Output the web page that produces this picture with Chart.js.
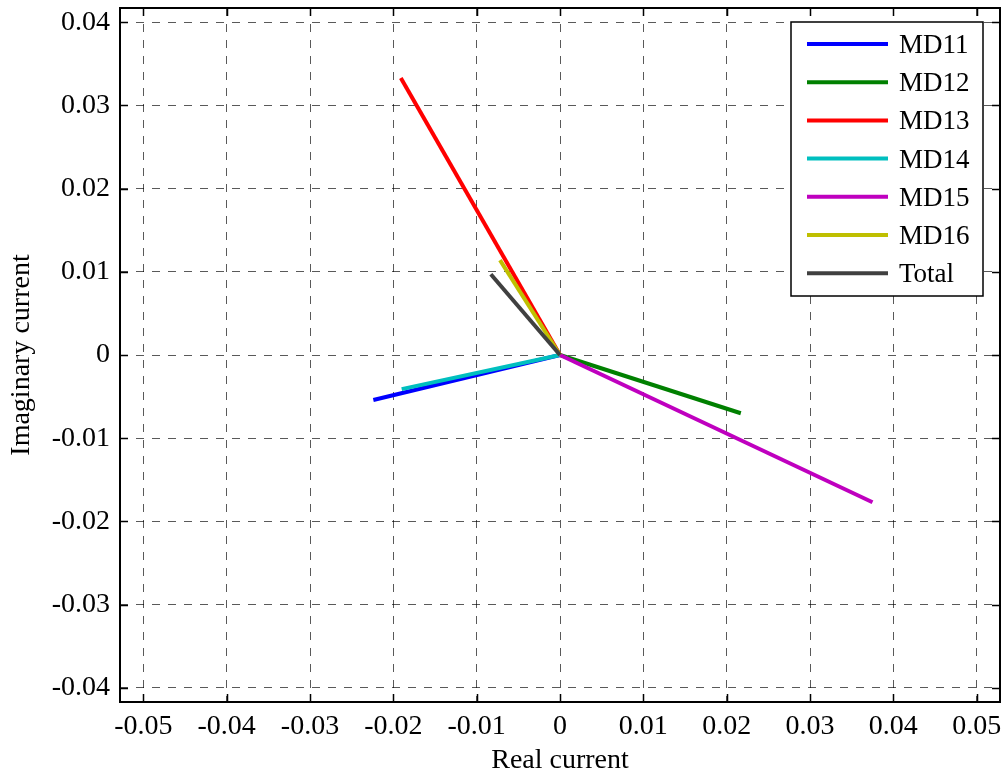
<!DOCTYPE html>
<html>
<head>
<meta charset="utf-8">
<script src="https://cdn.jsdelivr.net/npm/chart.js@4/dist/chart.umd.min.js"></script>
<style>
  html, body { margin: 0; padding: 0; background: #fff; }
  #wrap { width: 1005px; height: 775px; }
</style>
</head>
<body>
<div id="wrap"><canvas id="phasor"></canvas></div>
<script>
/* ---------- Data ---------- */

const seriesNames = ["MD11", "MD12", "MD13", "MD14", "MD15", "MD16", "Total"];
const seriesColors = ["#0000ff", "#008000", "#ff0000", "#00bfbf", "#bf00bf", "#bfbf00", "#404040"];

// phasor tips (real, imaginary), every line starts at the origin
const realEnd = [-0.0224, 0.0217, -0.0191, -0.0190, 0.0375, -0.0072, -0.0083];
const imagEnd = [-0.0054, -0.0070, 0.0333, -0.0041, -0.0177, 0.0114, 0.0097];

const xTicks = [-0.05, -0.04, -0.03, -0.02, -0.01, 0, 0.01, 0.02, 0.03, 0.04, 0.05];
const yTicks = [-0.04, -0.03, -0.02, -0.01, 0, 0.01, 0.02, 0.03, 0.04];

const X_LIM = 0.0528;
const Y_LIM = 0.0417;

/* ---------- Style ---------- */

const FONT = "'Liberation Serif', 'Times New Roman', serif";
const GRID = "rgba(0,0,0,0.65)";

/* ---------- Plugins ---------- */

// matlab style box + inward tick marks
const frame = {
    id: "frame",
    afterDatasetsDraw(chart) {
        const { ctx, chartArea: a, scales } = chart;
        const len = 8;
        ctx.save();
        ctx.strokeStyle = "#000";
        ctx.lineWidth = 1.5;
        ctx.beginPath();
        xTicks.forEach(v => {
            const px = Math.round(scales.x.getPixelForValue(v)) + 0.5;
            ctx.moveTo(px, a.bottom); ctx.lineTo(px, a.bottom - len);
            ctx.moveTo(px, a.top); ctx.lineTo(px, a.top + len);
        });
        yTicks.forEach(v => {
            const py = Math.round(scales.y.getPixelForValue(v)) + 0.5;
            ctx.moveTo(a.left, py); ctx.lineTo(a.left + len, py);
            ctx.moveTo(a.right, py); ctx.lineTo(a.right - len, py);
        });
        ctx.stroke();
        ctx.lineWidth = 2;
        ctx.strokeRect(a.left, a.top, a.right - a.left, a.bottom - a.top);
        ctx.restore();
    }
};

// legend box in the top right corner
const boxLegend = {
    id: "boxLegend",
    afterDatasetsDraw(chart) {
        const { ctx, chartArea: a } = chart;
        const w = 192, h = 274;
        const x = a.right - 17 - w;
        const y = a.top + 14;
        const rowH = 38.2;
        ctx.save();
        ctx.fillStyle = "#fff";
        ctx.fillRect(x, y, w, h);
        ctx.strokeStyle = "#000";
        ctx.lineWidth = 1.5;
        ctx.strokeRect(x, y, w, h);
        ctx.font = "27px " + FONT;
        ctx.textBaseline = "middle";
        chart.data.datasets.forEach((ds, i) => {
            const ry = y + 22 + i * rowH;
            ctx.strokeStyle = ds.borderColor;
            ctx.lineWidth = 4;
            ctx.beginPath();
            ctx.moveTo(x + 16, ry);
            ctx.lineTo(x + 97, ry);
            ctx.stroke();
            ctx.fillStyle = "#000";
            ctx.fillText(ds.label, x + 108, ry + 2);
        });
        ctx.restore();
    }
};

/* ---------- Chart ---------- */

const datasets = seriesNames.map((name, i) => ({
    label: name,
    data: [{ x: 0, y: 0 }, { x: realEnd[i], y: imagEnd[i] }],
    borderColor: seriesColors[i],
    backgroundColor: seriesColors[i],
    borderWidth: 4,
    pointRadius: 0,
    showLine: true,
    order: seriesNames.length - i
}));

function tickFormat(v) {
    return String(Math.round(v * 100) / 100);
}

new Chart(document.getElementById("phasor"), {
    type: "scatter",
    data: { datasets },
    options: {
        responsive: true,
        maintainAspectRatio: false,
        animation: false,
        layout: { padding: { top: 8, right: 5, left: 0, bottom: 0 } },
        plugins: {
            legend: { display: false },
            tooltip: { enabled: false }
        },
        scales: {
            x: {
                type: "linear",
                min: -X_LIM,
                max: X_LIM,
                afterBuildTicks: s => { s.ticks = xTicks.map(v => ({ value: v })); },
                afterFit: s => { s.height = 73; s.paddingLeft = 0; s.paddingRight = 0; },
                border: { display: false, dash: [8, 8] },
                grid: { color: GRID, lineWidth: 1, drawTicks: false },
                ticks: {
                    padding: 8,
                    color: "#000",
                    font: { family: FONT, size: 28 },
                    maxRotation: 0,
                    autoSkip: false,
                    callback: tickFormat
                },
                title: {
                    display: true,
                    text: "Real current",
                    color: "#000",
                    font: { family: FONT, size: 28, lineHeight: 1 },
                    padding: { top: 0, bottom: 0 }
                }
            },
            y: {
                type: "linear",
                min: -Y_LIM,
                max: Y_LIM,
                afterBuildTicks: s => { s.ticks = yTicks.map(v => ({ value: v })); },
                afterFit: s => { s.width = 120; s.paddingTop = 0; s.paddingBottom = 0; },
                border: { display: false, dash: [8, 8] },
                grid: { color: GRID, lineWidth: 1, drawTicks: false },
                ticks: {
                    padding: 10,
                    color: "#000",
                    font: { family: FONT, size: 28 },
                    autoSkip: false,
                    callback: tickFormat
                },
                title: {
                    display: true,
                    text: "Imaginary current",
                    color: "#000",
                    font: { family: FONT, size: 28, lineHeight: 1 },
                    padding: { top: 8, bottom: 0 }
                }
            }
        }
    },
    plugins: [frame, boxLegend]
});
</script>
</body>
</html>
